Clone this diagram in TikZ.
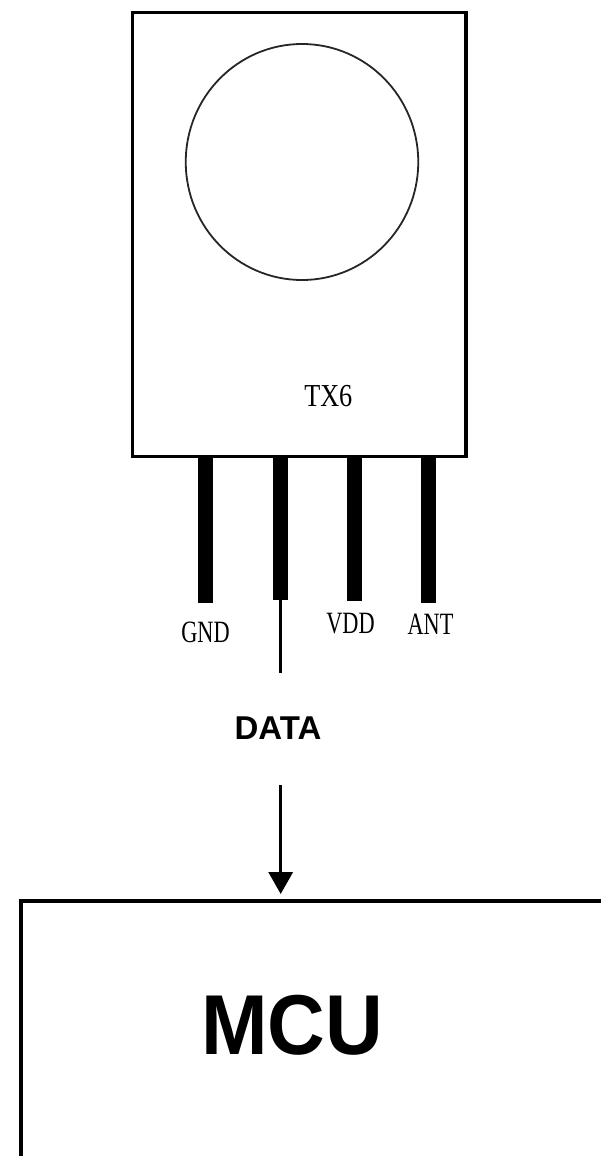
\documentclass[tikz,border=0pt]{standalone}
\usepackage{fontspec}
\setmainfont{Liberation Serif}
\newfontfamily\headfont{Liberation Sans}
\newfontfamily\pinfont[FakeStretch=0.72]{Liberation Serif}
\newfontfamily\txfont[FakeStretch=0.82]{Liberation Serif}
\newfontfamily\mcufont[FakeStretch=0.94]{Liberation Sans}
\usetikzlibrary{arrows.meta,shapes.geometric}
\tikzset{
 px/.style={x=1pt,y=-1pt},
 body/.style={draw=black,line width=3.6pt,fill=white},
 pin/.style={draw=black,line width=15pt},
 wire/.style={draw=black,line width=3.4pt},
 lab/.style={font=\pinfont\fontsize{31}{33}\selectfont,text=black,inner sep=0pt},
}
\begin{document}
\begin{tikzpicture}[px]
\useasboundingbox (0,0) rectangle (601,1156);
\fill[white] (0,0) rectangle (601,1156);
\node[body,minimum width=333.5pt,minimum height=444pt,inner sep=0pt] (mod) at (299.2,234.5) {};
\node[draw=black!85,line width=1.8pt,ellipse,minimum width=232.5pt,minimum height=236pt,inner sep=0pt] (lens) at (302,162) {};
\node[font=\txfont\fontsize{32}{34}\selectfont,inner sep=0pt] (tx) at (328.3,396) {TX6};
\coordinate (p1t) at (205.5,457);\coordinate (p1b) at (205.5,603);
\coordinate (p2t) at (280,457);\coordinate (p2b) at (280,600);
\coordinate (p3t) at (354,457);\coordinate (p3b) at (354,601);
\coordinate (p4t) at (428.5,457);\coordinate (p4b) at (428.5,603);
\draw[pin] (p1t)--(p1b);
\draw[pin] (p2t)--(p2b);
\draw[pin] (p3t)--(p3b);
\draw[pin] (p4t)--(p4b);
\node[lab] (gnd) at (205.5,632.5) {GND};
\node[lab] (vdd) at (350.5,624) {VDD};
\node[lab] (ant) at (430.5,624) {ANT};
\coordinate (w) at (280.7,673);
\draw[wire] (280.7,600)--(w);
\node[font=\headfont\bfseries\fontsize{33}{35}\selectfont,inner sep=0pt] (data) at (278,728) {DATA};
\coordinate (as) at (280.7,785);
\coordinate (ae) at (280.7,894);
\draw[wire,-{Triangle[length=22pt,width=24pt]}] (as)--(ae);
\coordinate (m1) at (21,1156);\coordinate (m2) at (21,901);\coordinate (m3) at (601,901);
\draw[draw=black,line width=3.6pt] (m1)--(m2)--(m3);
\node[font=\mcufont\bfseries\fontsize{85}{90}\selectfont,inner sep=0pt] (mcu) at (292,1025) {MCU};
\end{tikzpicture}
\end{document}
